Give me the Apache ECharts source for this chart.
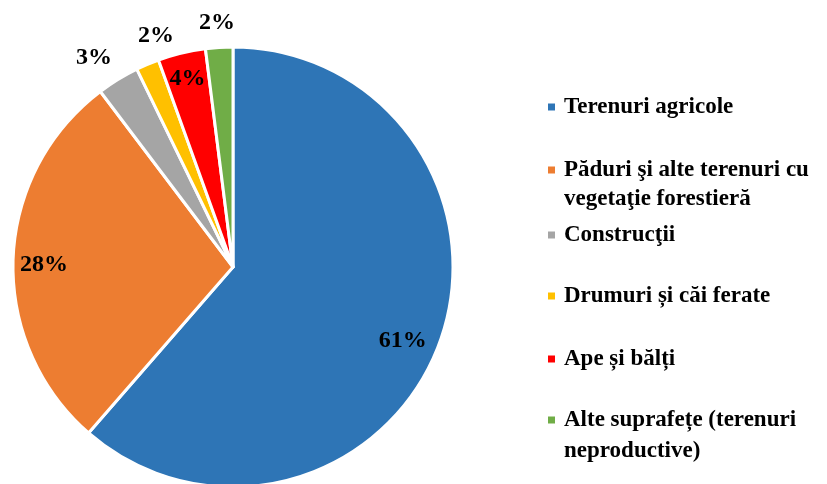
<!DOCTYPE html>
<html>
<head>
<meta charset="utf-8">
<script src="https://cdn.jsdelivr.net/npm/echarts@6/dist/echarts.min.js"></script>
<style>
html, body { margin: 0; padding: 0; background: #fff; }
#main { width: 827px; height: 484px; }
</style>
</head>
<body>
<div id="main"></div>
<script>
var names = [
    'Terenuri agricole',
    'Păduri şi alte terenuri cu\nvegetaţie forestieră',
    'Construcţii',
    'Drumuri și căi ferate',
    'Ape și bălți',
    'Alte suprafețe (terenuri\nneproductive)'
];
var values = [61.4, 28.3, 3.1, 1.7, 3.5, 2.0];
var colors = ['#2E75B6', '#ED7D31', '#A5A5A5', '#FFC000', '#FF0000', '#70AD47'];

// label nudges from the default inside spot
var labelOffsets = [[64, 34], [-76, 2], [-80, -113], [-33, -127], [-19, -78], [-9, -131]];
// legend icon centres (y) and line heights
var legendY = [107, 170, 235, 296, 359, 420];
var legendLineH = [29, 29, 29, 29, 29, 31];

var fontFam = '"Liberation Serif", "DejaVu Serif", serif';

var pieData = [];
for (var i = 0; i < names.length; i++) {
    pieData.push({
        name: names[i],
        value: values[i],
        itemStyle: { color: colors[i] },
        label: { offset: labelOffsets[i] }
    });
}

var legends = [];
for (var i = 0; i < names.length; i++) {
    var twoLines = names[i].indexOf('\n') >= 0;
    var lh = legendLineH[i];
    legends.push({
        data: [names[i]],
        orient: 'vertical',
        left: 546,
        top: twoLines ? legendY[i] - lh * 1.5 : legendY[i] - lh / 2,
        padding: 0,
        itemWidth: 9,
        itemHeight: 9,
        icon: 'rect',
        selectedMode: false,
        // blank first line keeps the icon level with the first text line
        formatter: twoLines ? function (n) { return ' \n' + n; } : '{name}',
        textStyle: {
            fontFamily: fontFam,
            fontWeight: 'bold',
            fontSize: 23,
            color: '#000',
            lineHeight: lh,
            padding: [0, 0, 0, 3]
        }
    });
}

var chart = echarts.init(document.getElementById('main'));
chart.setOption({
    animation: false,
    backgroundColor: '#fff',
    legend: legends,
    series: [{
        type: 'pie',
        center: [233, 267],
        radius: 220,
        startAngle: 90,
        clockwise: true,
        avoidLabelOverlap: false,
        percentPrecision: 0,
        itemStyle: { borderColor: '#fff', borderWidth: 3 },
        label: {
            position: 'inside',
            formatter: '{d}%',
            fontFamily: fontFam,
            fontWeight: 'bold',
            fontSize: 24,
            color: '#000'
        },
        labelLine: { show: false },
        emphasis: { disabled: true },
        data: pieData
    }]
});
</script>
</body>
</html>
